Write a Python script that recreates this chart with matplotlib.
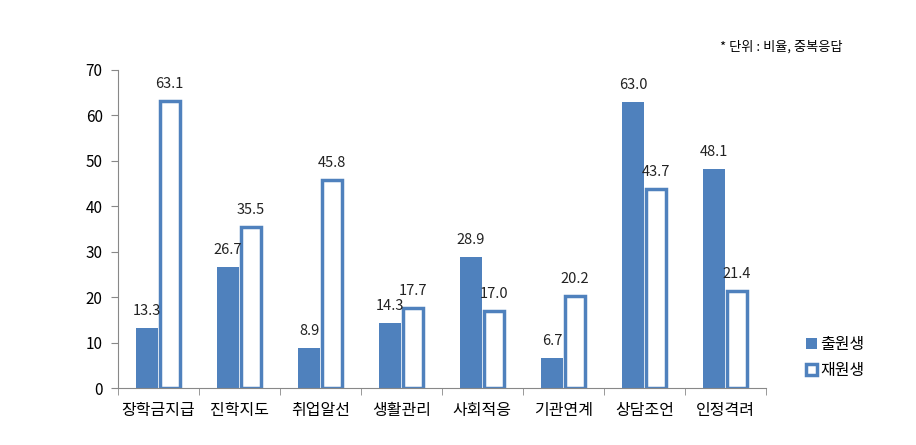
import numpy as np
import matplotlib
matplotlib.use('Agg')
import matplotlib.pyplot as plt

plt.rcParams['font.family'] = ['Noto Sans CJK KR', 'DejaVu Sans']

categories = ['장학금지급', '진학지도', '취업알선', '생활관리', '사회적응', '기관연계', '상담조언', '인정격려']
graduates = [13.3, 26.7, 8.9, 14.3, 28.9, 6.7, 63.0, 48.1]
students = [63.1, 35.5, 45.8, 17.7, 17.0, 20.2, 43.7, 21.4]
series_names = ['출원생', '재원생']

blue = '#4F81BD'
fig = plt.figure(figsize=(9.16, 4.45), dpi=100)
ax = fig.add_axes([0.1288, 0.128, 0.7072, 0.715])

x = np.arange(len(categories))
w = 0.28
b1 = ax.bar(x - w / 2, graduates, w, color=blue, label=series_names[0])
b2 = ax.bar(x + w / 2, students, w - 0.03, facecolor='white', edgecolor=blue,
            linewidth=2.5, label=series_names[1])

for bars, vals in ((b1, graduates), (b2, students)):
    for r, v in zip(bars, vals):
        ax.text(r.get_x() + r.get_width() / 2, v + 2.2, f'{v:.1f}',
                ha='center', va='bottom', fontsize=10.5, color='#222222')

ax.set_xlim(-0.5, len(categories) - 0.5)
ax.set_ylim(0, 70)
ax.set_yticks(range(0, 71, 10))
ax.set_xticks(x)
ax.set_xticklabels(categories, fontsize=11.5)
ax.set_xticks(np.arange(-0.5, len(categories), 1), minor=True)
ax.tick_params(axis='x', which='major', length=0, pad=10)
ax.tick_params(axis='x', which='minor', length=5, color='#888888')
ax.tick_params(axis='y', length=5, color='#888888', labelsize=11, pad=6)

for s in ['top', 'right']:
    ax.spines[s].set_visible(False)
for s in ['left', 'bottom']:
    ax.spines[s].set_color('#888888')
    ax.spines[s].set_linewidth(0.8)

ax.legend(loc='center left', bbox_to_anchor=(1.04, 0.096), frameon=False,
          fontsize=11.5, handlelength=0.7, handleheight=0.7, handletextpad=0.2,
          labelspacing=0.55)

fig.text(0.786, 0.894, '* 단위 : 비율, 중복응답', fontsize=9.5, ha='left', va='center')

fig.savefig('out.png', dpi=100)
